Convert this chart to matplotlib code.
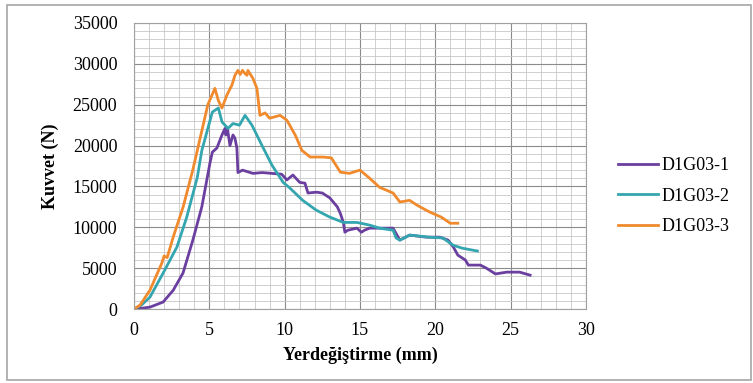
import numpy as np
import matplotlib
matplotlib.use('Agg')
import matplotlib.pyplot as plt
from matplotlib.patches import Rectangle
from matplotlib.ticker import MultipleLocator

x1 = [0, 0.5, 1.06, 1.93, 2.6, 3.25, 3.9, 4.5, 5.04, 5.2, 5.5, 5.84, 6.04, 6.1, 6.2, 6.37,
      6.57, 6.7, 6.83, 6.9, 7.2, 7.9, 8.5, 9.16, 9.8, 10.15, 10.55, 11.0, 11.35, 11.55, 12.1,
      12.5, 13.0, 13.5, 13.7, 13.9, 14.0, 14.2, 14.8, 15.1, 15.3, 15.65, 16.3, 17.2, 17.65,
      18.3, 19.4, 20.3, 20.85, 21.2, 21.5, 22.0, 22.2, 23.0, 23.4, 24.0, 24.75, 25.6, 26.3]
y1 = [0, 100, 240, 860, 2300, 4400, 8400, 12500, 17850, 19200, 19700, 21300, 22100, 21300,
      22100, 20000, 21300, 20900, 19700, 16700, 17000, 16600, 16700, 16600, 16500, 15800,
      16400, 15500, 15400, 14200, 14300, 14200, 13600, 12500, 11700, 10600, 9400, 9650, 9900,
      9400, 9650, 9900, 9900, 9900, 8440, 9050, 8800, 8800, 8440, 7600, 6600, 6000, 5380,
      5380, 5000, 4300, 4520, 4520, 4150]

x2 = [0, 0.5, 1.06, 1.93, 2.85, 3.5, 4.2, 4.5, 5.2, 5.6, 5.84, 6.24, 6.57, 7.0, 7.37, 7.83,
      8.5, 9.16, 9.9, 10.35, 11.2, 12.1, 13.0, 13.9, 14.8, 15.65, 16.3, 17.2, 17.4, 17.65,
      18.3, 19.6, 20.5, 21.2, 21.8, 22.8]
y2 = [0, 500, 1470, 4400, 7600, 11250, 16100, 19400, 24100, 24600, 22900, 22100, 22700,
      22500, 23700, 22500, 20000, 17600, 15500, 14800, 13300, 12100, 11250, 10600, 10600,
      10270, 9900, 9650, 8700, 8440, 9050, 8800, 8700, 7800, 7450, 7100]

x3 = [0, 0.4, 1.06, 1.84, 2.0, 2.2, 2.6, 3.26, 3.9, 4.2, 4.9, 5.37, 5.6, 5.84, 6.17, 6.5,
      6.7, 6.9, 7.05, 7.2, 7.37, 7.5, 7.56, 7.9, 8.16, 8.36, 8.7, 9.0, 9.7, 10.15, 10.7,
      11.15, 11.7, 12.55, 13.1, 13.7, 14.3, 15.0, 15.65, 16.3, 17.2, 17.65, 18.3, 18.8,
      19.6, 20.4, 21.0, 21.5]
y3 = [0, 490, 2320, 5600, 6500, 6300, 8800, 12500, 17000, 19400, 25000, 27000, 25500, 24600,
      26200, 27400, 28600, 29200, 28700, 29200, 28800, 28600, 29200, 28200, 27000, 23700,
      24000, 23350, 23700, 23100, 21300, 19400, 18600, 18600, 18500, 16750, 16600, 17000,
      16000, 14900, 14200, 13100, 13300, 12700, 11900, 11250, 10500, 10500]

labels = ['D1G03-1', 'D1G03-2', 'D1G03-3']
colors = ['#6B3FA0', '#33A6AF', '#F08A2C']

plt.rcParams['font.family'] = ['Liberation Serif', 'DejaVu Serif']

fig = plt.figure(figsize=(7.53, 3.83), dpi=100)
fig.patches.append(Rectangle((0.009, 0.008), 0.988, 0.978, transform=fig.transFigure,
                             fill=False, edgecolor='#a6a6a6', linewidth=1.2))
ax = fig.add_axes([0.178, 0.193, 0.600, 0.747])

for xs, ys, lab, c in zip([x1, x2, x3], [y1, y2, y3], labels, colors):
  ax.plot(xs, ys, color=c, linewidth=2.0, label=lab)

ax.set_xlim(0, 30)
ax.set_ylim(0, 35000)
ax.xaxis.set_major_locator(MultipleLocator(5))
ax.xaxis.set_minor_locator(MultipleLocator(1))
ax.yaxis.set_major_locator(MultipleLocator(5000))
ax.yaxis.set_minor_locator(MultipleLocator(1000))
ax.grid(True, which='major', color='#8c8c8c', linewidth=0.8)
ax.grid(True, which='minor', color='#c8c8c8', linewidth=0.6)
ax.set_axisbelow(True)
ax.tick_params(which='both', length=0, labelsize=13)
ax.tick_params(axis='y', pad=12)
ax.tick_params(axis='x', pad=9)
for s in ax.spines.values():
  s.set_color('#a0a0a0')

ax.set_xlabel('Yerdeğiştirme (mm)', fontsize=13, fontweight='bold', labelpad=6)
ax.set_ylabel('Kuvvet (N)', fontsize=13, fontweight='bold', labelpad=10)

ax.legend(loc='center left', bbox_to_anchor=(1.035, 0.395), frameon=False, fontsize=13,
          handlelength=2.2, handletextpad=0.2, labelspacing=0.75)

plt.savefig('out.png', dpi=100)
